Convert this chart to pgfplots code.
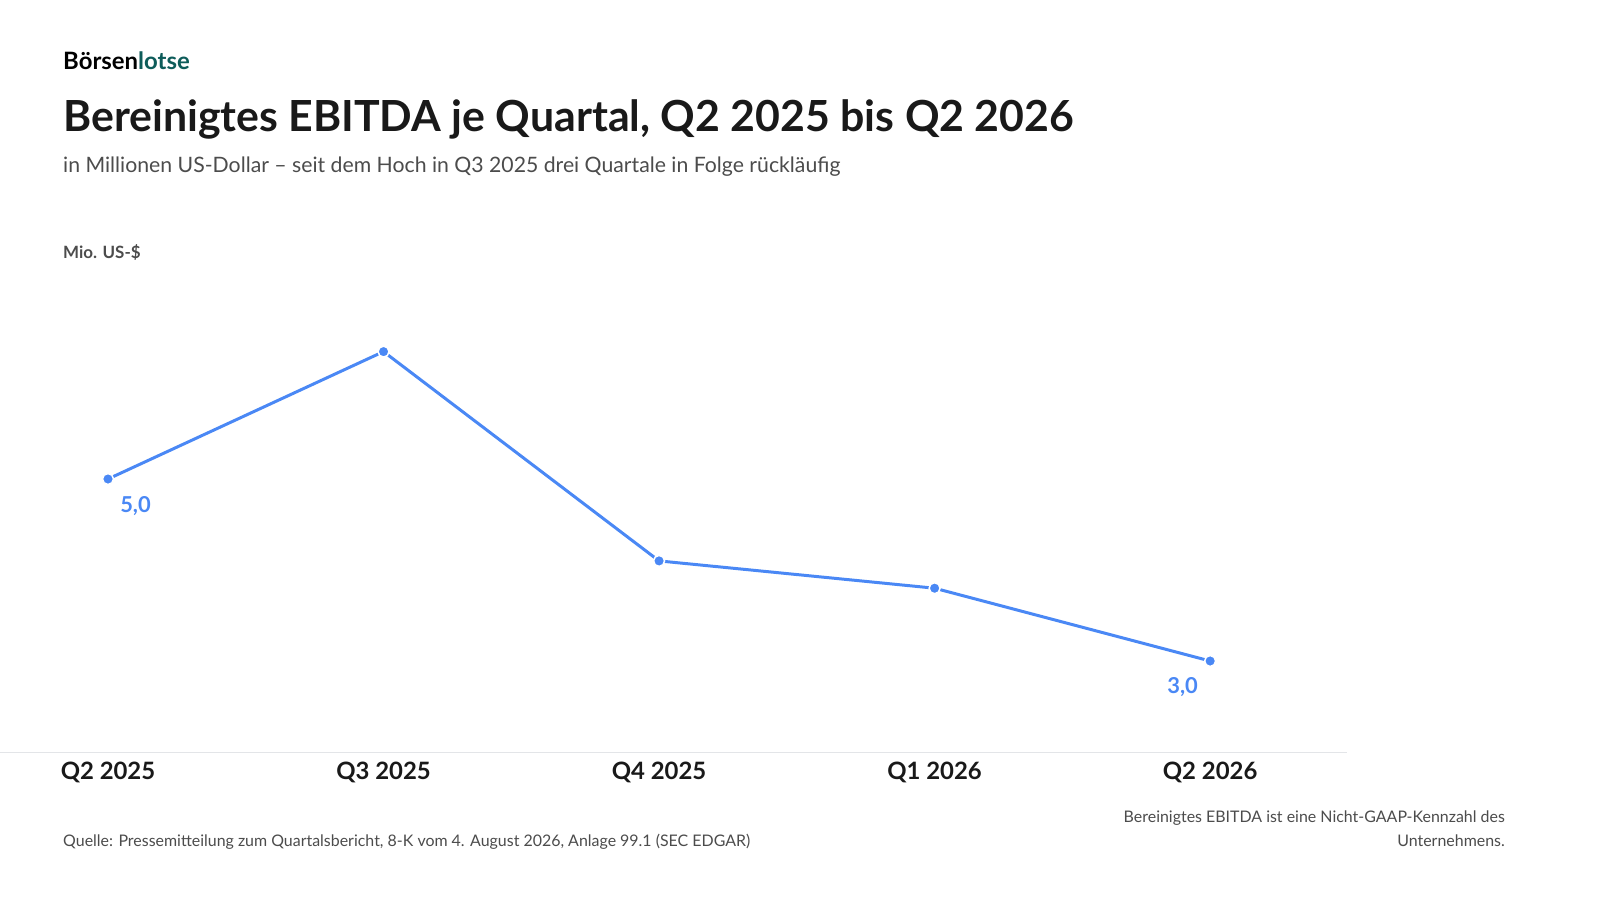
\documentclass[border=0pt]{standalone}
\usepackage{pgfplots}
\pgfplotsset{compat=1.18}
\usepackage{fontspec}
\setmainfont{Lato}
\definecolor{ln}{HTML}{4A88F5}
\definecolor{grd}{HTML}{E3E5E8}
\definecolor{tk}{HTML}{6B7280}
\definecolor{tl}{HTML}{0E5C5A}
\begin{document}
\begin{tikzpicture}
\fill[white] (0,0) rectangle (1600bp,-900bp);
\useasboundingbox (0,0) rectangle (1600bp,-900bp);
\node[anchor=base west,font=\fontsize{24}{28}\selectfont\bfseries,inner sep=0pt] at (63bp,-69bp) {Börsen\textcolor{tl}{lotse}};
\node[anchor=base west,font=\fontsize{43}{48}\selectfont\bfseries,color=black!90,inner sep=0pt] at (63bp,-131bp) {Bereinigtes EBITDA je Quartal, Q2 2025 bis Q2 2026};
\node[anchor=base west,font=\fontsize{21.3}{24}\selectfont,color=black!70,inner sep=0pt] at (63bp,-172bp) {in Millionen US-Dollar – seit dem Hoch in Q3 2025 drei Quartale in Folge rückläufig};
\node[anchor=base west,font=\fontsize{17}{20}\selectfont\bfseries,color=black!70,inner sep=0pt] at (63bp,-258bp) {Mio. US-\$};
\begin{axis}[at={(108bp,-752bp)},anchor=origin,scale only axis,
 width=1387bp,height=455bp,
 xmin=-0.537,xmax=4.497,ymin=2,ymax=7,
 axis x line*=bottom, axis y line=none,
 x axis line style={draw=grd,-},
 ytick={2,...,7},ymajorgrids,grid style={grd,line width=1pt},
 major tick length=0pt,
 xtick=data,xticklabels={Q2 2025,Q3 2025,Q4 2025,Q1 2026,Q2 2026},
 xticklabel style={font=\fontsize{24}{28}\selectfont\bfseries,color=black!90,yshift=-6bp},
 yticklabel style={font=\fontsize{19}{22}\selectfont\bfseries,color=tk,xshift=-2bp},
 /pgf/number format/assume math mode=true,
 clip=false]
\addplot[ln,line width=3pt,mark=*,mark size=5.5pt,mark options={draw=white,line width=1.5pt,fill=ln}] coordinates {(0,5.0)(1,6.4)(2,4.1)(3,3.8)(4,3.0)};
\node[ln,font=\fontsize{22}{24}\selectfont\bfseries] at (axis cs:0.1,4.7) {5,0};
\node[ln,font=\fontsize{22}{24}\selectfont\bfseries] at (axis cs:3.9,2.71) {3,0};
\end{axis}
\node[anchor=base west,font=\fontsize{16}{19}\selectfont,color=black!70,inner sep=0pt] at (63bp,-846bp) {Quelle: Pressemitteilung zum Quartalsbericht, 8-K vom 4. August 2026, Anlage 99.1 (SEC EDGAR)};
\node[anchor=base east,font=\fontsize{16}{19}\selectfont,color=black!70,inner sep=0pt] at (1505bp,-822bp) {Bereinigtes EBITDA ist eine Nicht-GAAP-Kennzahl des};
\node[anchor=base east,font=\fontsize{16}{19}\selectfont,color=black!70,inner sep=0pt] at (1505bp,-846bp) {Unternehmens.};
\end{tikzpicture}
\end{document}
